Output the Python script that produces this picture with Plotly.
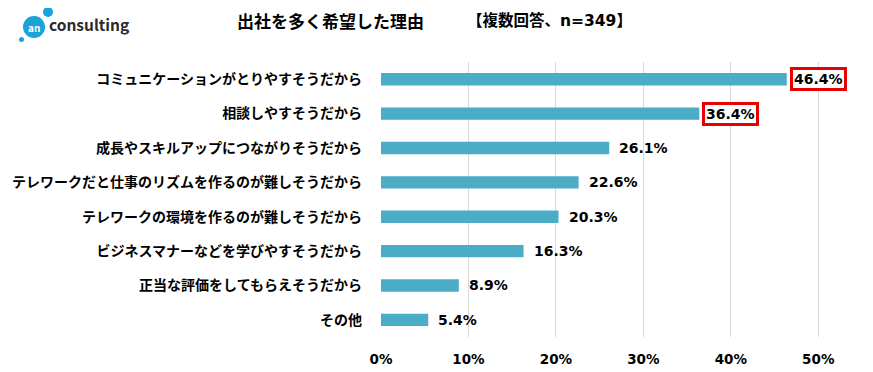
import plotly.graph_objects as go

categories = [
    "コミュニケーションがとりやすそうだから",
    "相談しやすそうだから",
    "成長やスキルアップにつながりそうだから",
    "テレワークだと仕事のリズムを作るのが難しそうだから",
    "テレワークの環境を作るのが難しそうだから",
    "ビジネスマナーなどを学びやすそうだから",
    "正当な評価をしてもらえそうだから",
    "その他",
]
values = [46.4, 36.4, 26.1, 22.6, 20.3, 16.3, 8.9, 5.4]
highlighted = [True, True, False, False, False, False, False, False]
tick_vals = [0, 10, 20, 30, 40, 50]
tick_text = ["0%", "10%", "20%", "30%", "40%", "50%"]

FONT = "DejaVu Sans, Noto Sans CJK JP"
CJK = "Noto Sans CJK JP"
BAR = "#4bacc6"

# page body has an 8px margin, so the figure is offset by 8px
OFF = 8
W, H = 873 - OFF, 372 - OFF
L, R, T, B = 381 - OFF, 53, 62 - OFF, 35
pw, ph = W - L - R, H - T - B
def px(x):
    return (x - OFF - L) / pw
def py(y):
    return 1 - (y - OFF - T) / ph

fig = go.Figure()
fig.add_trace(go.Bar(
    x=values, y=categories, orientation="h",
    marker=dict(color=BAR, line=dict(width=0)),
    width=0.36, hoverinfo="skip",
))

annotations = []
for c, v, h in zip(categories, values, highlighted):
    a = dict(x=v, y=c, xref="x", yref="y", text=f"<b>{v:.1f}%</b>",
             showarrow=False, xanchor="left", yanchor="middle",
             font=dict(family=FONT, size=14, color="#000000"))
    if h:
        a.update(xshift=3, bgcolor="white", bordercolor="#e60000",
                 borderwidth=3, borderpad=1)
    else:
        a.update(xshift=8)
    annotations.append(a)

annotations.append(dict(x=px(235), y=py(21), xref="paper", yref="paper",
                        text="<b>出社を多く希望した理由</b>",
                        showarrow=False, xanchor="left", yanchor="middle",
                        font=dict(family=CJK, size=17, color="#000")))
annotations.append(dict(x=px(465), y=py(21), xref="paper", yref="paper",
                        text="<b>【複数回答、n=349】</b>",
                        showarrow=False, xanchor="left", yanchor="middle",
                        font=dict(family=FONT, size=15.5, color="#000")))
annotations.append(dict(x=px(47), y=py(24), xref="paper", yref="paper",
                        text="<b>consulting</b>",
                        showarrow=False, xanchor="left", yanchor="middle",
                        font=dict(family=CJK, size=15.5, color="#2b2b2b")))
annotations.append(dict(x=px(34), y=py(27), xref="paper", yref="paper",
                        text="<b>an</b>",
                        showarrow=False, xanchor="center", yanchor="middle",
                        font=dict(family=CJK, size=10, color="white")))

shapes = [
    dict(type="circle", xref="paper", yref="paper",
         x0=px(23), x1=px(45), y0=py(38), y1=py(16),
         fillcolor="#1aa3d9", line=dict(width=0)),
    dict(type="circle", xref="paper", yref="paper",
         x0=px(43), x1=px(53), y0=py(17), y1=py(7),
         fillcolor="#1aa3d9", line=dict(width=0)),
    dict(type="circle", xref="paper", yref="paper",
         x0=px(19), x1=px(24), y0=py(42), y1=py(37),
         fillcolor="#1aa3d9", line=dict(width=0)),
]

fig.update_layout(
    width=W, height=H,
    margin=dict(l=L, r=R, t=T, b=B, autoexpand=False),
    paper_bgcolor="white", plot_bgcolor="white",
    showlegend=False,
    xaxis=dict(range=[0, 50.2], tickvals=tick_vals,
               ticktext=[f"<b>{t}</b>" for t in tick_text],
               showgrid=True, gridcolor="#d9d9d9", gridwidth=1, zeroline=False,
               showline=False, ticks="", ticklabelstandoff=12, automargin=False,
               tickfont=dict(family=FONT, size=13.5, color="#000")),
    yaxis=dict(autorange="reversed", showgrid=False, zeroline=False, showline=False,
               ticks="", ticklabelstandoff=18, automargin=False,
               tickvals=categories, ticktext=[f"<b>{c}</b>" for c in categories],
               tickfont=dict(family=CJK, size=14, color="#000")),
    annotations=annotations,
    shapes=shapes,
)

fig.write_html("out.html")
